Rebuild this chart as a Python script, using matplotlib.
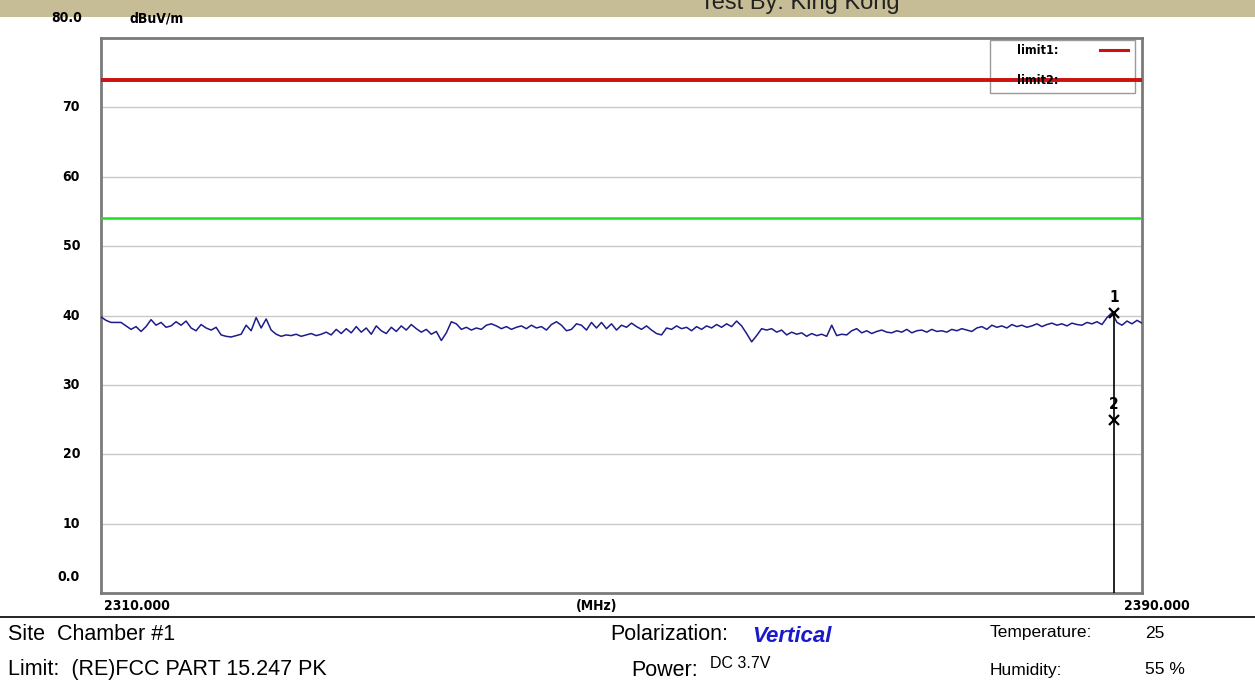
import numpy as np
import matplotlib
matplotlib.use("Agg")
import matplotlib.pyplot as plt

# ---- data ----
freq_start, freq_stop = 2310.0, 2390.0
y_ticks = [10, 20, 30, 40, 50, 60, 70]
limit1_level = 74.0   # peak limit
limit2_level = 54.0   # average limit

trace_dbuv = [
    39.8, 39.3, 39.0, 39.0, 39.0, 38.5, 38.0, 38.4, 37.7, 38.4,
    39.4, 38.6, 39.0, 38.3, 38.5, 39.1, 38.6, 39.2, 38.2, 37.8,
    38.7, 38.2, 37.9, 38.3, 37.2, 37.0, 36.9, 37.1, 37.3, 38.6,
    37.8, 39.7, 38.2, 39.5, 37.9, 37.3, 37.0, 37.2, 37.1, 37.3,
    37.0, 37.2, 37.4, 37.1, 37.3, 37.6, 37.2, 38.0, 37.4, 38.1,
    37.5, 38.4, 37.6, 38.2, 37.3, 38.5, 37.8, 37.4, 38.3, 37.7,
    38.5, 37.9, 38.7, 38.1, 37.6, 38.0, 37.3, 37.7, 36.4, 37.5,
    39.1, 38.8, 38.0, 38.3, 37.9, 38.2, 38.0, 38.6, 38.8, 38.5,
    38.1, 38.4, 38.0, 38.3, 38.5, 38.1, 38.6, 38.2, 38.4, 37.9,
    38.7, 39.1, 38.6, 37.8, 38.0, 38.8, 38.6, 37.9, 39.0, 38.2,
    39.0, 38.1, 38.8, 37.9, 38.6, 38.3, 38.9, 38.4, 38.0, 38.5,
    37.9, 37.4, 37.2, 38.2, 38.0, 38.5, 38.1, 38.3, 37.8, 38.4,
    38.0, 38.5, 38.2, 38.7, 38.3, 38.8, 38.4, 39.2, 38.5, 37.4,
    36.2, 37.1, 38.1, 37.9, 38.1, 37.6, 37.9, 37.2, 37.6, 37.3,
    37.5, 37.0, 37.4, 37.1, 37.3, 37.0, 38.6, 37.1, 37.3, 37.2,
    37.8, 38.1, 37.5, 37.8, 37.4, 37.7, 37.9, 37.6, 37.5, 37.8,
    37.6, 38.0, 37.5, 37.8, 37.9, 37.6, 38.0, 37.7, 37.8, 37.6,
    38.0, 37.8, 38.1, 37.9, 37.7, 38.2, 38.4, 38.0, 38.6, 38.3,
    38.5, 38.2, 38.7, 38.4, 38.6, 38.3, 38.5, 38.8, 38.4, 38.7,
    38.9, 38.6, 38.8, 38.5, 38.9, 38.7, 38.6, 39.0, 38.8, 39.1,
    38.7, 39.7, 40.4, 39.0, 38.6, 39.2, 38.8, 39.3, 38.9,
]
trace_freq = np.linspace(freq_start, freq_stop, len(trace_dbuv))

marker_freq = 2387.84
marker_labels = ["1", "2"]
marker_levels = [40.4, 25.0]

# ---- figure ----
W, H = 1255, 689
fig = plt.figure(figsize=(W / 100, H / 100), dpi=100)
fig.patch.set_facecolor("white")


def fx(x):
    return x / W


def fy(y):
    return 1 - y / H


cond = dict(family="DejaVu Sans", stretch="condensed", weight="bold")
plain = dict(family="Liberation Sans")

# header band
fig.patches.append(plt.Rectangle((0, fy(17)), 1, 17 / H, transform=fig.transFigure,
                                 facecolor="#c6bd97", edgecolor="none", zorder=0))
fig.text(fx(700), fy(14), "Test By: King Kong", fontsize=17, color="#222222",
         ha="left", va="bottom", **plain)

ax = fig.add_axes([fx(101), fy(593), fx(1142) - fx(101), (593 - 38) / H])
ax.set_xlim(freq_start, freq_stop)
ax.set_ylim(0, 80)
ax.set_xticks([])
ax.set_yticks([])
for s in ax.spines.values():
    s.set_color("#7a7a7a")
    s.set_linewidth(2.0)

for t in y_ticks:
    ax.axhline(t, color="#c8c8c8", lw=1.0, zorder=1)

ax.axhline(limit1_level, color="#cc1111", lw=2.8, zorder=3)
ax.axhline(limit2_level, color="#22dd22", lw=1.8, zorder=3)

ax.plot(trace_freq, trace_dbuv, color="#1c1c8a", lw=1.1, zorder=4)

# markers
ax.vlines(marker_freq, 0, marker_levels[0], color="black", lw=1.2, zorder=5)
for lab, lev in zip(marker_labels, marker_levels):
    ax.plot(marker_freq, lev, marker="x", color="black", ms=7, mew=1.6, zorder=6)
    ax.text(marker_freq, lev + 1.1, lab, ha="center", va="bottom",
            fontsize=11, color="black", zorder=6, **cond)

# legend box
lb = plt.Rectangle((fx(990), fy(93)), (1135 - 990) / W, (93 - 40) / H,
                   transform=fig.transFigure, facecolor="white", edgecolor="#9a9a9a",
                   lw=1.0, zorder=2)
ax.add_patch(lb)
lb.set_clip_on(False)
fig.text(fx(1017), fy(50), "limit1:", fontsize=9, va="center", ha="left", **cond)
fig.text(fx(1017), fy(81), "limit2:", fontsize=9, va="center", ha="left", **cond)
fig.lines.append(plt.Line2D([fx(1100), fx(1128)], [fy(50), fy(50)],
                            transform=fig.transFigure, color="#cc1111", lw=2.2))

# y labels
for t in y_ticks:
    ya = 38 + (80 - t) / 80 * (593 - 38)
    fig.text(fx(80), fy(ya), f"{t}", fontsize=10, ha="right", va="center", **cond)
fig.text(fx(80), fy(577), "0.0", fontsize=10, ha="right", va="center", **cond)
fig.text(fx(82), fy(18), "80.0", fontsize=10, ha="right", va="center", **cond)
fig.text(fx(130), fy(18), "dBuV/m", fontsize=10, ha="left", va="center", **cond)

# x labels
fig.text(fx(137), fy(606), f"{freq_start:.3f}", fontsize=10, ha="center", va="center", **cond)
fig.text(fx(597), fy(606), "(MHz)", fontsize=10, ha="center", va="center", **cond)
fig.text(fx(1157), fy(606), f"{freq_stop:.3f}", fontsize=10, ha="center", va="center", **cond)

# separator
fig.lines.append(plt.Line2D([0, 1], [fy(617), fy(617)], transform=fig.transFigure,
                            color="black", lw=1.2))

# footer info
fig.text(fx(8), fy(634), "Site  Chamber #1", fontsize=15.5, ha="left", va="center", **plain)
fig.text(fx(8), fy(670), "Limit:  (RE)FCC PART 15.247 PK", fontsize=15.5, ha="left", va="center", **plain)
fig.text(fx(610), fy(634), "Polarization:", fontsize=15.5, ha="left", va="center", **plain)
fig.text(fx(752), fy(636), "Vertical", fontsize=16, ha="left", va="center", color="#1a1acc",
         style="italic", weight="bold", family="Liberation Sans")
fig.text(fx(631), fy(670), "Power:", fontsize=15.5, ha="left", va="center", **plain)
fig.text(fx(710), fy(663), "DC 3.7V", fontsize=11.5, ha="left", va="center", **plain)
fig.text(fx(990), fy(633), "Temperature:", fontsize=12.5, ha="left", va="center", **plain)
fig.text(fx(1145), fy(633), "25", fontsize=12.5, ha="left", va="center", **plain)
fig.text(fx(990), fy(670), "Humidity:", fontsize=12.5, ha="left", va="center", **plain)
fig.text(fx(1145), fy(670), "55 %", fontsize=12.5, ha="left", va="center", **plain)

fig.savefig("out.png", dpi=100)
